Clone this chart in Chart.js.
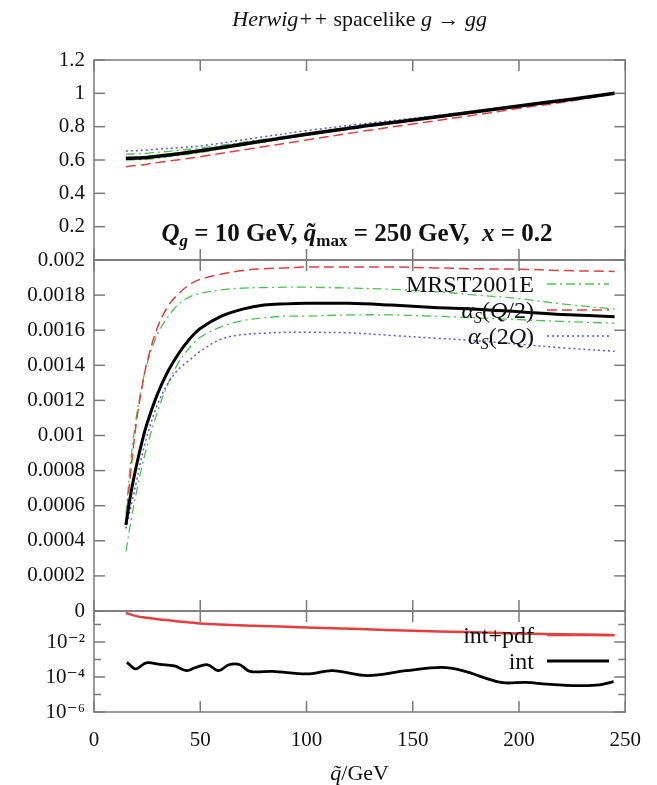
<!DOCTYPE html>
<html>
<head>
<meta charset="utf-8">
<script src="https://cdn.jsdelivr.net/npm/chart.js@4.4.1/dist/chart.umd.min.js"></script>
<style>
  html, body { margin: 0; padding: 0; background: #fff; }
</style>
</head>
<body>
<canvas id="plot" width="657" height="785"></canvas>
<script>
// top panel: normalised distribution
const qTop = [15, 20, 25, 30, 40, 50, 75, 100, 125, 150, 175, 200, 225, 245];
const topCentral = [0.61, 0.612, 0.615, 0.622, 0.638, 0.655, 0.705, 0.754, 0.80, 0.84, 0.882, 0.924, 0.965, 1.0];
const topHalfQ   = [0.56, 0.567, 0.575, 0.585, 0.602, 0.62, 0.67, 0.72, 0.77, 0.816, 0.862, 0.91, 0.955, 1.0];
const topTwoQ    = [0.654, 0.656, 0.66, 0.665, 0.674, 0.684, 0.73, 0.776, 0.815, 0.85, 0.887, 0.924, 0.962, 1.0];
const topPdfUp   = [0.635, 0.637, 0.64, 0.646, 0.658, 0.672, 0.715, 0.76, 0.803, 0.843, 0.883, 0.924, 0.964, 1.0];
const topPdfDown = [0.60, 0.602, 0.605, 0.612, 0.628, 0.645, 0.698, 0.748, 0.795, 0.837, 0.88, 0.923, 0.964, 1.0];

// middle panel: distribution
const qMid = [15, 17.5, 20, 22.5, 25, 30, 35, 40, 45, 50, 60, 70, 80, 90, 100, 120, 140, 160, 180, 200, 220, 245];
const midCentral = [0.00049, 0.00068, 0.00083, 0.00096, 0.00107, 0.00124, 0.00137, 0.00147, 0.00155, 0.00161, 0.00168, 0.00172, 0.001743, 0.00175, 0.001753, 0.001753, 0.001743, 0.00173, 0.00172, 0.001705, 0.00169, 0.001677];
const midHalfQ   = [0.0005, 0.00082, 0.00108, 0.00127, 0.00142, 0.00162, 0.00174, 0.00181, 0.00186, 0.00189, 0.00192, 0.00194, 0.00195, 0.001955, 0.00196, 0.00196, 0.00196, 0.001955, 0.00195, 0.001948, 0.00194, 0.001935];
const midTwoQ    = [0.00047, 0.0006, 0.00074, 0.00088, 0.001, 0.00118, 0.0013, 0.00138, 0.00143, 0.00148, 0.00155, 0.001575, 0.001583, 0.001588, 0.001588, 0.001585, 0.00157, 0.001555, 0.00154, 0.00152, 0.0015, 0.00148];
const midPdfUp   = [0.00055, 0.00088, 0.00111, 0.00128, 0.00141, 0.00158, 0.00168, 0.00175, 0.00179, 0.00181, 0.00183, 0.00184, 0.001843, 0.001845, 0.001845, 0.00184, 0.001833, 0.00182, 0.0018, 0.00178, 0.00175, 0.00172];
const midPdfDown = [0.00034, 0.00052, 0.00068, 0.00082, 0.00094, 0.00114, 0.0013, 0.00142, 0.0015, 0.00156, 0.00162, 0.001655, 0.00167, 0.00168, 0.00168, 0.001687, 0.001687, 0.00168, 0.00167, 0.00166, 0.00165, 0.00164];

// bottom panel: relative errors
const qErrPdf = [15, 20, 25, 30, 40, 50, 75, 100, 125, 150, 175, 200, 225, 245];
const errIntPdf = [0.45, 0.3, 0.24, 0.2, 0.15, 0.115, 0.085, 0.068, 0.055, 0.044, 0.037, 0.031, 0.027, 0.0245];
const qErrInt = [15.5, 19.6, 24.6, 31.2, 37.8, 43.6, 47.8, 53.5, 58.5, 63.5, 68.4, 73.4, 84.1, 100.2, 112.2, 128.8, 147, 163.5, 173.4, 191.6, 203.2, 213.1, 228, 237.9, 244.5];
const errInt = [6.9e-4, 2.9e-4, 6.5e-4, 5.2e-4, 4.3e-4, 2.3e-4, 3.5e-4, 5.0e-4, 2.3e-4, 5.0e-4, 5.2e-4, 2.1e-4, 2.1e-4, 1.5e-4, 2.3e-4, 1.2e-4, 2.3e-4, 3.5e-4, 2.3e-4, 4.9e-5, 4.9e-5, 3.9e-5, 3.2e-5, 3.5e-5, 5.4e-5];

// axes
const xTicks = [0, 50, 100, 150, 200, 250];
const botTicks = [1e-6, 1e-5, 1e-4, 1e-3, 1e-2, 1e-1];
const botLabels = ['10⁻⁶', '', '10⁻⁴', '', '10⁻²', ''];

const SERIF = "'Liberation Serif', 'DejaVu Serif', serif";
const RED = 'rgb(230,62,62)', GREEN = 'rgb(70,200,70)', BLUE = 'rgb(95,85,225)', BLACK = '#000';

function pts(xs, ys) { return xs.map((x, i) => ({ x: x, y: ys[i] })); }
function line(data, axis, color, width, dash) {
  return { data: data, yAxisID: axis, borderColor: color, borderWidth: width, borderDash: dash || [],
           pointRadius: 0, tension: 0.35, fill: false, borderCapStyle: 'butt' };
}

// draw a row of text pieces with mixed fonts; align 'center' or 'right'
function runs(ctx, parts, x, y, align) {
  let w = 0;
  parts.forEach(p => { ctx.font = p.f; p.w = ctx.measureText(p.t).width; w += p.w; });
  let cx = align === 'right' ? x - w : x - w / 2;
  ctx.textAlign = 'left';
  ctx.textBaseline = 'alphabetic';
  parts.forEach(p => { ctx.font = p.f; ctx.fillText(p.t, cx, y + (p.dy || 0)); cx += p.w; });
}

const F = (s, size) => s + ' ' + size + 'px ' + SERIF;

const decor = {
  id: 'decor',
  afterDatasetsDraw(chart) {
    const { ctx, chartArea: a, scales } = chart;
    const x = scales.x;
    ctx.save();
    ctx.strokeStyle = '#7a7a7a';
    ctx.lineWidth = 1.5;
    const seg = (x1, y1, x2, y2) => { ctx.beginPath(); ctx.moveTo(x1, y1); ctx.lineTo(x2, y2); ctx.stroke(); };
    ['yTop', 'yMid', 'yBot'].forEach(id => {
      const s = scales[id];
      ctx.strokeRect(a.left, s.top, a.right - a.left, s.bottom - s.top);
      xTicks.forEach(v => {
        const px = x.getPixelForValue(v);
        seg(px, s.top, px, s.top + 11);
        seg(px, s.bottom, px, s.bottom - 11);
      });
      s.ticks.forEach((t, i) => {
        const py = s.getPixelForValue(t.value);
        const len = (id === 'yBot' && !botLabels[i]) ? 7 : 11;
        seg(a.left, py, a.left + len, py);
        seg(a.right, py, a.right - len, py);
      });
    });

    ctx.fillStyle = '#111';
    // title
    runs(ctx, [
      { t: 'Herwig++', f: F('italic', 22) },
      { t: ' spacelike ', f: F('normal', 22) },
      { t: 'g', f: F('italic', 22) },
      { t: ' → ', f: F('normal', 22) },
      { t: 'gg', f: F('italic', 22) }
    ], (a.left + a.right) / 2, 26, 'center');

    // annotation in top panel
    runs(ctx, [
      { t: 'Q', f: F('italic bold', 25) },
      { t: 'g', f: F('italic bold', 17), dy: 5 },
      { t: ' = 10 GeV, ', f: F('bold', 25) },
      { t: 'q̃', f: F('italic bold', 25) },
      { t: 'max', f: F('bold', 17), dy: 5 },
      { t: ' = 250 GeV,  ', f: F('bold', 25) },
      { t: 'x', f: F('italic bold', 25) },
      { t: ' = 0.2', f: F('bold', 25) }
    ], 357, 241, 'center');

    // legends
    const lx = 534, s0 = 547, s1 = 609;
    const legRows = [
      { parts: [{ t: 'MRST2001E', f: F('normal', 24) }], y: 284, ds: 3 },
      { parts: [{ t: 'α', f: F('italic', 24) }, { t: 'S', f: F('italic', 16), dy: 5 }, { t: '(', f: F('normal', 24) }, { t: 'Q', f: F('italic', 24) }, { t: '/2)', f: F('normal', 24) }], y: 310, ds: 1 },
      { parts: [{ t: 'α', f: F('italic', 24) }, { t: 'S', f: F('italic', 16), dy: 5 }, { t: '(2', f: F('normal', 24) }, { t: 'Q', f: F('italic', 24) }, { t: ')', f: F('normal', 24) }], y: 336, ds: 2 },
      { parts: [{ t: 'int+pdf', f: F('normal', 24) }], y: 635, ds: 6 },
      { parts: [{ t: 'int', f: F('normal', 24) }], y: 661, ds: 5 }
    ];
    legRows.forEach(r => {
      runs(ctx, r.parts, lx, r.y + 8, 'right');
      const d = chart.data.datasets[r.ds];
      ctx.save();
      ctx.strokeStyle = d.borderColor;
      ctx.lineWidth = d.borderWidth;
      ctx.setLineDash(d.borderDash);
      seg(s0, r.y, s1, r.y);
      ctx.restore();
    });

    // x axis title
    runs(ctx, [{ t: 'q̃', f: F('italic', 22) }, { t: '/GeV', f: F('normal', 22) }], (a.left + a.right) / 2, 780, 'center');
    ctx.restore();
  }
};

const fixW = s => { s.width = 94; };
const tickFont = { family: SERIF, size: 21 };

new Chart(document.getElementById('plot'), {
  type: 'line',
  data: {
    datasets: [
      line(pts(qMid, midCentral), 'yMid', BLACK, 3),
      line(pts(qMid, midHalfQ), 'yMid', RED, 1.5, [10, 5]),
      line(pts(qMid, midTwoQ), 'yMid', BLUE, 1.5, [2, 3]),
      line(pts(qMid, midPdfUp), 'yMid', GREEN, 1.3, [9, 4, 2, 4]),
      line(pts(qMid, midPdfDown), 'yMid', GREEN, 1.3, [9, 4, 2, 4]),
      line(pts(qErrInt, errInt), 'yBot', BLACK, 2.8),
      line(pts(qErrPdf, errIntPdf), 'yBot', RED, 2.5),
      line(pts(qTop, topCentral), 'yTop', BLACK, 3.5),
      line(pts(qTop, topHalfQ), 'yTop', RED, 1.5, [10, 5]),
      line(pts(qTop, topTwoQ), 'yTop', BLUE, 1.5, [2, 3]),
      line(pts(qTop, topPdfUp), 'yTop', GREEN, 1.3, [9, 4, 2, 4]),
      line(pts(qTop, topPdfDown), 'yTop', GREEN, 1.3, [9, 4, 2, 4])
    ]
  },
  options: {
    responsive: false,
    animation: false,
    devicePixelRatio: 1,
    layout: { padding: { top: 60, right: 23, bottom: 0, left: 0 } },
    plugins: { legend: { display: false }, tooltip: { enabled: false }, title: { display: false } },
    scales: {
      x: {
        type: 'linear', min: 0, max: 250,
        grid: { display: false, drawTicks: false }, border: { display: false },
        ticks: { stepSize: 50, padding: 16, autoSkip: false, maxRotation: 0, color: '#111', font: tickFont },
        afterFit: s => { s.height = 73; }
      },
      yTop: {
        type: 'linear', position: 'left', stack: 'panels', stackWeight: 200, weight: 3,
        min: 0, max: 1.2,
        grid: { display: false, drawTicks: false }, border: { display: false },
        ticks: { stepSize: 0.2, padding: 9, autoSkip: false, color: '#111', font: tickFont,
                 callback: v => v < 0.1 ? '' : String(+v.toFixed(1)) },
        afterFit: fixW
      },
      yMid: {
        type: 'linear', position: 'left', stack: 'panels', stackWeight: 351, weight: 2,
        min: 0, max: 0.002,
        grid: { display: false, drawTicks: false }, border: { display: false },
        ticks: { stepSize: 0.0002, padding: 9, autoSkip: false, color: '#111', font: tickFont,
                 callback: v => String(+v.toFixed(4)) },
        afterFit: fixW
      },
      yBot: {
        type: 'logarithmic', position: 'left', stack: 'panels', stackWeight: 101, weight: 1,
        min: 1e-6, max: 0.59,
        grid: { display: false, drawTicks: false }, border: { display: false },
        ticks: { padding: 9, autoSkip: false, color: '#111', font: tickFont,
                 callback: (v, i) => botLabels[i] },
        afterBuildTicks: s => { s.ticks = botTicks.map(v => ({ value: v })); },
        afterFit: fixW
      }
    }
  },
  plugins: [decor]
});
</script>
</body>
</html>
